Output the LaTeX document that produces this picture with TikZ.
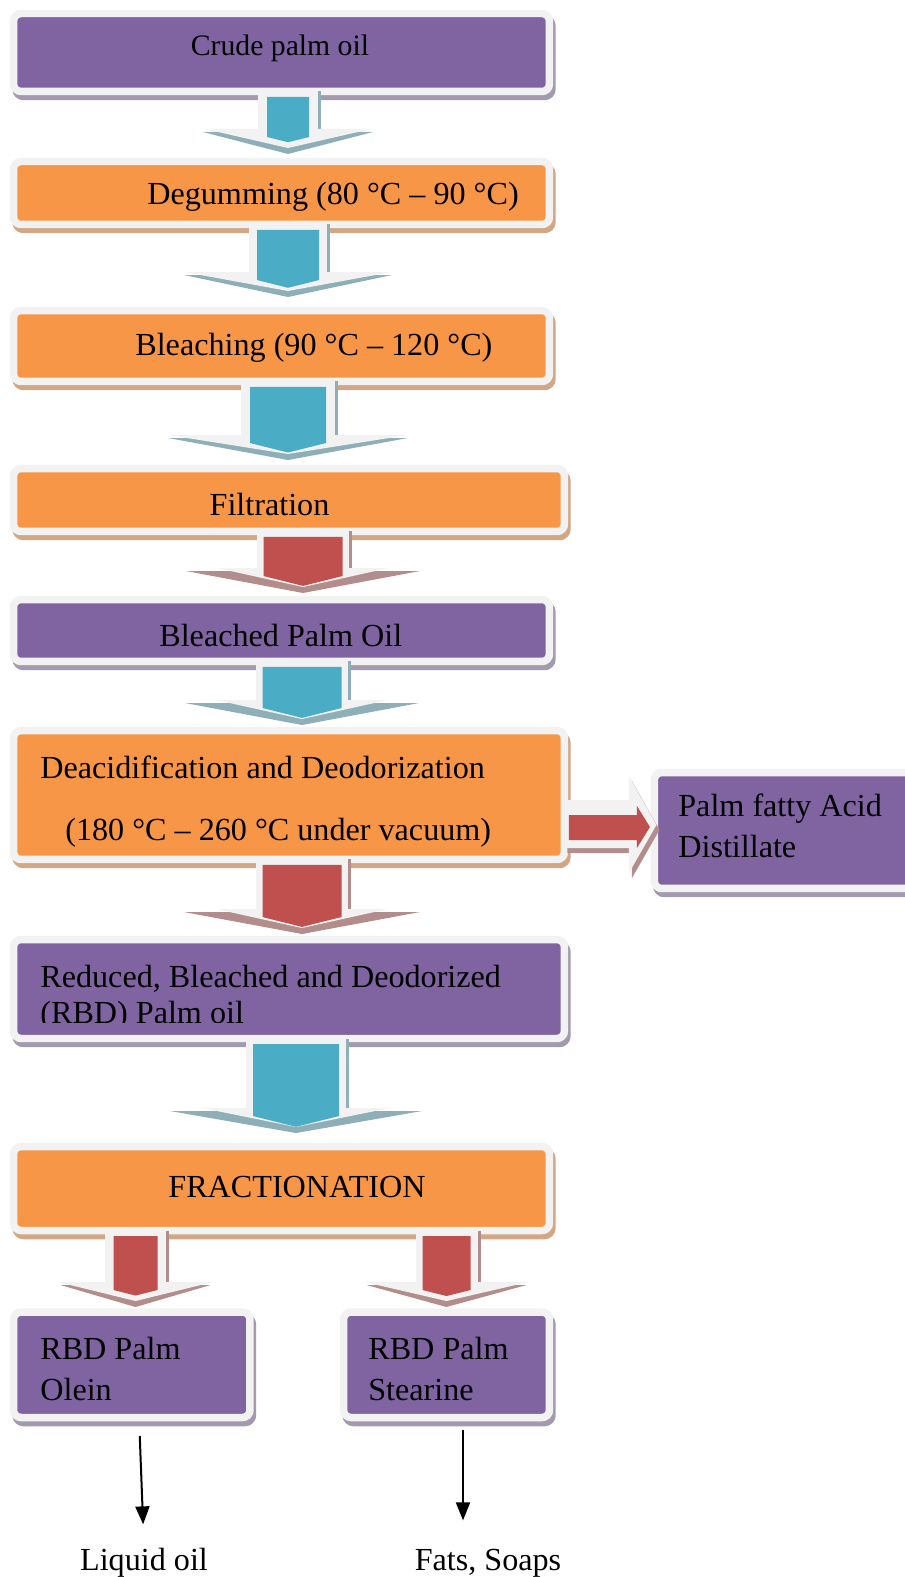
\documentclass[tikz,border=0pt]{standalone}
\usepackage{fontspec}
\setmainfont{Liberation Serif}
\usetikzlibrary{calc,arrows.meta}

\definecolor{boxpurple}{HTML}{8064A2}
\definecolor{boxorange}{HTML}{F79646}
\definecolor{framegray}{HTML}{F2F2F2}
\definecolor{pshade}{HTML}{A39AB0}
\definecolor{oshade}{HTML}{D3A684}
\definecolor{bluearr}{HTML}{4BACC6}
\definecolor{blueshd}{HTML}{8FAFB8}
\definecolor{redarr}{HTML}{C0504D}
\definecolor{redshd}{HTML}{B38D8C}

\tikzset{
  box/.style={draw=framegray, line width=0.15cm, rounded corners=0.15cm, inner sep=0pt, outer sep=0pt,
    preaction={draw=#1, fill=#1, transform canvas={shift={(0.05cm,-0.1cm)}}}},
  pbox/.style={box=pshade, fill=boxpurple},
  obox/.style={box=oshade, fill=boxorange},
  txt/.style={font=\fontsize{18.3}{22.8}\selectfont, inner sep=0pt, anchor=base west, align=left},
  thinarrow/.style={-{Triangle[length=0.36cm,width=0.28cm]}, line width=0.04cm},
}

% block arrow: from, to, x, gap above target, shaft, core, head, shadow head, colour
\newcommand{\flowarrow}[9]{
  \coordinate (top) at (#3,0 |- #1.south);
  \coordinate (ctop) at ($(top)+(0,5.5)$);
  \begin{scope}[shift={(#3,0 |- #2.north)}]
    \fill[#9shd] (-#8,-#4+3) -- (#8,-#4+3) -- (0,-#4+25) -- cycle; % shadow of the head
    \fill[#9shd] (#5,0 |- top) rectangle (#5+3,-#4);
    \fill[framegray] (-#5,0 |- top) rectangle (#5,-#4+1);
    \fill[framegray] (-#7,-#4) -- (#7,-#4) -- (0,-#4+19) -- cycle;
    \fill[#9arr] (-#6,0 |- ctop) -- (#6,0 |- ctop) -- (#6,-#4+8) -- (0,-#4+8+0.25*#6) -- (-#6,-#4+8) -- cycle;
  \end{scope}}

\begin{document}
\begin{tikzpicture}[x=0.02cm, y=-0.02cm]
  \useasboundingbox (0,0) rectangle (905,1577);

  % boxes
  \node[pbox, minimum width=10.72cm, minimum height=1.56cm] (crude) at (281.5,52.5) {};
  \node[obox, minimum width=10.72cm, minimum height=1.26cm] (degum) at (281.5,193) {};
  \node[obox, minimum width=10.72cm, minimum height=1.42cm] (bleach) at (281.5,346) {};
  \node[obox, minimum width=11.02cm, minimum height=1.26cm] (filt) at (289,500) {};
  \node[pbox, minimum width=10.72cm, minimum height=1.24cm] (bpo) at (281.5,630.5) {};
  \node[obox, minimum width=11.02cm, minimum height=2.58cm] (deacid) at (289,795) {};
  \node[pbox, minimum width=5.71cm, minimum height=2.32cm] (pfad) at (797,830.5) {};
  \node[pbox, minimum width=11.02cm, minimum height=1.98cm] (rbd) at (289,989) {};
  \node[obox, minimum width=10.72cm, minimum height=1.68cm] (fract) at (281.5,1188.5) {};
  \node[pbox, minimum width=4.73cm, minimum height=2.11cm] (olein) at (131.75,1364.75) {};
  \node[pbox, minimum width=4.12cm, minimum height=2.11cm] (stearin) at (446.5,1364.75) {};

  % texts
  \node[txt, anchor=base, font=\fontsize{16.9}{20}\selectfont] (crudetxt) at (280,56) {Crude palm oil};
  \node[txt] (degumtxt) at (147,205) {Degumming (80 °C -- 90 °C)};
  \node[txt] (bleachtxt) at (135,356) {Bleaching (90 °C -- 120 °C)};
  \node[txt, anchor=base] (filttxt) at (269.5,515) {Filtration};
  \node[txt] (bpotxt) at (159,646) {Bleached Palm Oil};
  \node[txt] (deacidtxt) at (40,840) {Deacidification and Deodorization\\[12pt]\hspace*{0.5cm}(180 °C -- 260 °C under vacuum)};
  \node[txt] (pfadtxt) at (678,857) {Palm fatty Acid\\Distillate};
  \begin{scope}
    \clip (0,930) rectangle (905,1022); % second line is cut off
    \node[txt] (rbdtxt) at (40,1023) {Reduced, Bleached and Deodorized\\[-2.8pt](RBD) Palm oil};
  \end{scope}
  \node[txt, anchor=base] (fracttxt) at (297,1197) {FRACTIONATION};
  \node[txt] (oleintxt) at (40,1400) {RBD Palm\\Olein};
  \node[txt] (stearintxt) at (368,1400) {RBD Palm\\Stearine};
  \node[txt, anchor=base] (liquid) at (144,1570) {Liquid oil};
  \node[txt, anchor=base] (fats) at (488,1570) {Fats, Soaps};

  % block arrows
  \flowarrow{crude}{degum}{288}{32.5}{30}{21}{83}{85}{blue}
  \flowarrow{degum}{bleach}{288}{38.5}{39}{31}{104}{104}{blue}
  \flowarrow{bleach}{filt}{288}{33.5}{47}{38}{120}{120}{blue}
  \flowarrow{filt}{bpo}{303}{31.5}{46}{39.5}{86}{117}{red}
  \flowarrow{bpo}{deacid}{302}{30.5}{46}{39.5}{86}{117}{blue}
  \flowarrow{deacid}{rbd}{302}{30.5}{46}{39.5}{86}{118}{red}
  \flowarrow{rbd}{fract}{296}{38.5}{50}{43}{94}{126}{blue}
  \flowarrow{fract}{olein}{135.5}{30}{30.5}{22}{77.5}{75}{red}
  \flowarrow{fract}{stearin}{446.5}{30}{31}{24}{82}{80}{red}

  % side arrow to the distillate
  \begin{scope}[shift={(deacid.east)}]
    \fill[redshd, shift={(3,5)}] (0,5) -- (64.5,5) -- (64.5,-19) -- (92,30) -- (64.5,78) -- (64.5,53) -- (0,53) -- cycle;
    \fill[framegray] (0,5) -- (64.5,5) -- (64.5,-19) -- (92,30) -- (64.5,78) -- (64.5,53) -- (0,53) -- cycle;
    \fill[redarr] (4.5,20) -- (72.5,20) -- (72.5,11) -- (85.5,32) -- (72.5,53) -- (72.5,45) -- (4.5,45) -- cycle;
  \end{scope}

  % products
  \draw[thinarrow, shorten >=0.46cm] ([xshift=0.16cm,yshift=-0.37cm]olein.south) -- (liquid.north);
  \draw[thinarrow, shorten >=0.56cm] ([xshift=0.33cm,yshift=-0.25cm]stearin.south) coordinate (s2) -- (s2 |- fats.north);
\end{tikzpicture}
\end{document}
